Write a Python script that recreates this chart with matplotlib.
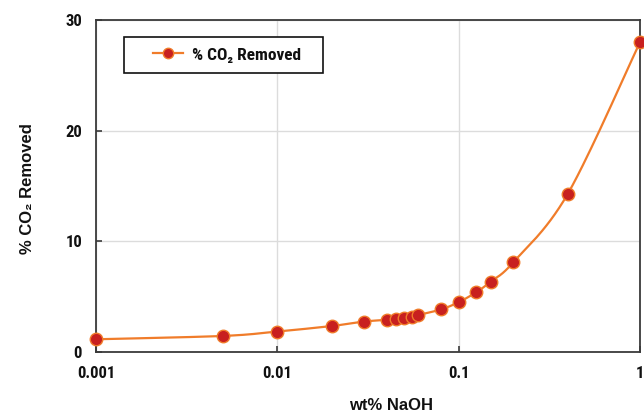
import numpy as np
import matplotlib
matplotlib.use("Agg")
import matplotlib.pyplot as plt
from matplotlib import font_manager
from matplotlib.patches import Rectangle

# ---- data ----
wt_naoh = [0.001, 0.005, 0.01, 0.02, 0.03, 0.04, 0.045, 0.05, 0.055, 0.06,
           0.08, 0.1, 0.125, 0.15, 0.2, 0.4, 1.0]
co2_removed = [1.15, 1.45, 1.85, 2.35, 2.75, 2.9, 2.95, 3.05, 3.2, 3.35,
               3.85, 4.5, 5.4, 6.35, 8.1, 14.3, 28.0]
x_ticks = [0.001, 0.01, 0.1, 1]
x_tick_labels = ["0.001", "0.01", "0.1", "1"]
y_ticks = [0, 10, 20, 30]
series_name = "% CO\u2082 Removed"

names = {f.name for f in font_manager.fontManager.ttflist}
narrow = "Roboto Condensed" if "Roboto Condensed" in names else "DejaVu Sans"
wide = "Liberation Sans" if "Liberation Sans" in names else "DejaVu Sans"

LINE = "#f07c2a"
FILL = "#c8201f"
SPINE = "#3a3a3a"
GRID = "#dcdcdc"

fig = plt.figure(figsize=(6.44, 4.15), dpi=100)
W, H = 644, 415
ax = fig.add_axes([96 / W, 1 - 352 / H, (640 - 96) / W, (352 - 20) / H])


def smooth(xs, ys, n=30):
    # uniform Catmull-Rom (Excel-style smoothed line) in (log10 x, y) space
    p = np.column_stack([np.log10(xs), ys])
    p = np.vstack([p[0], p, p[-1]])
    out = []
    for i in range(1, len(p) - 2):
        p0, p1, p2, p3 = p[i - 1], p[i], p[i + 1], p[i + 2]
        c1 = p1 + (p2 - p0) / 6
        c2 = p2 - (p3 - p1) / 6
        t = np.linspace(0, 1, n)[:, None]
        seg = ((1 - t) ** 3) * p1 + 3 * ((1 - t) ** 2) * t * c1 + 3 * (1 - t) * t ** 2 * c2 + t ** 3 * p2
        out.append(seg)
    s = np.vstack(out)
    return 10 ** s[:, 0], s[:, 1]


sx, sy = smooth(wt_naoh, co2_removed)
ax.plot(sx, sy, color=LINE, lw=1.6, zorder=3, clip_on=False)
ax.plot(wt_naoh, co2_removed, ls="none", marker="o", ms=9, mfc=FILL, mec=LINE,
        mew=1.0, zorder=4, clip_on=False)

ax.plot([], [], color=LINE, lw=1.6, marker="o", ms=7.5, mfc=FILL, mec=LINE, mew=1.0,
        label=series_name)

ax.set_xscale("log")
ax.set_xlim(0.001, 1)
ax.set_ylim(0, 30)
ax.set_xticks(x_ticks)
ax.set_xticklabels(x_tick_labels)
ax.set_yticks(y_ticks)
ax.minorticks_off()
ax.grid(True, color=GRID, lw=1.0, zorder=0)
ax.set_axisbelow(True)

for s in ax.spines.values():
    s.set_color(SPINE)
    s.set_linewidth(1.3)

ax.tick_params(direction="in", length=4.5, width=1.2, color=SPINE)
ax.tick_params(axis="x", pad=10)
ax.tick_params(axis="y", pad=10)
for lab in ax.get_xticklabels() + ax.get_yticklabels():
    lab.set_family([narrow, "DejaVu Sans"])
    lab.set_fontweight("bold")
    lab.set_fontsize(12)
    lab.set_color("#111111")

fig.text(391 / W, 1 - 405 / H, "wt% NaOH", family=[wide, "DejaVu Sans"], fontweight="bold",
         fontsize=12, ha="center", va="center", color="#111111")
fig.text(27 / W, 1 - 189 / H, "% CO\u2082 Removed", family=[wide, "DejaVu Sans"], fontweight="bold",
         fontsize=12, ha="center", va="center", rotation=90, color="#111111")

# legend frame drawn as a rectangle (pixel box 124..323 x 37..73)
ax_w, ax_h = 544, 332
ax.add_patch(Rectangle(((124 - 96) / ax_w, (352 - 73) / ax_h), (323 - 124) / ax_w, 36 / ax_h,
                       transform=ax.transAxes, facecolor="white", edgecolor="#111111",
                       lw=1.2, zorder=5, clip_on=False))
fs_leg = 12.5
leg = ax.legend(loc="center left", bbox_to_anchor=((153 - 96) / ax_w, (352 - 55) / ax_h),
                frameon=False, borderpad=0, borderaxespad=0,
                handlelength=30 / (fs_leg * 100 / 72), handletextpad=9 / (fs_leg * 100 / 72),
                prop=font_manager.FontProperties(family=[narrow, "DejaVu Sans"],
                                                 weight="bold", size=fs_leg))
leg.set_zorder(6)
for t in leg.get_texts():
    t.set_color("#111111")

fig.savefig("out.png", dpi=100)
